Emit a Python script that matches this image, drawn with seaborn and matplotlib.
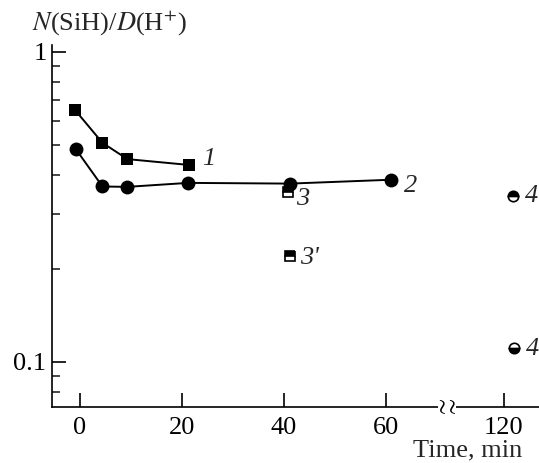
import numpy as np
import pandas as pd
import matplotlib
matplotlib.use("Agg")
import matplotlib.pyplot as plt
import seaborn as sns
from matplotlib.ticker import FixedLocator, FixedFormatter, NullFormatter
from matplotlib.transforms import blended_transform_factory

# ---- data ----
t1 = [-1.0, 4.4, 9.3, 21.3]
r1 = [0.65, 0.509, 0.451, 0.432]
t2 = [-0.8, 4.4, 9.3, 21.2, 41.2, 61.1]
r2 = [0.485, 0.368, 0.367, 0.378, 0.376, 0.387]
t3 = [40.8]
r3 = [0.353]
t3p = [41.2]
r3p = [0.220]
t4a = [121.8]
r4a = [0.344]
t4b = [122.0]
r4b = [0.111]
x_ticks = [0, 20, 40, 60, 120]
x_tick_labels = ["0", "20", "40", "60", "120"]
y_major = [0.1, 1]
y_major_labels = ["0.1", "1"]
y_minor = [0.08, 0.09, 0.2, 0.3, 0.4, 0.5, 0.6, 0.7, 0.8, 0.9]

sns.set_theme(style="ticks")
plt.rcParams["font.family"] = ["Liberation Serif", "DejaVu Serif"]
plt.rcParams["mathtext.fontset"] = "stix"

fig = plt.figure(figsize=(5.39, 4.63), dpi=100)
W, H = 539, 463
ax = fig.add_axes([52 / W, 1 - 407 / H, (W - 52) / W, (407 - 45) / H])

# broken time axis (gap between ~72 and ~109 min compressed)
kx = [-100, 72, 109, 400]
ky = [-100, 72, 72.14, 363.14]
fwd = lambda x: np.interp(x, kx, ky)
inv = lambda y: np.interp(y, ky, kx)
ax.set_xscale("function", functions=(fwd, inv))
ax.set_yscale("log")

df1 = pd.DataFrame({"t": t1, "r": r1})
df2 = pd.DataFrame({"t": t2, "r": r2})
sns.lineplot(data=df1, x="t", y="r", ax=ax, color="black", lw=1.4,
             marker="s", markersize=8, markeredgewidth=0, sort=False)
sns.lineplot(data=df2, x="t", y="r", ax=ax, color="black", lw=1.4,
             marker="o", markersize=10, markeredgewidth=0, sort=False)

def single(x, y, marker, fs, ms):
    sns.lineplot(x=x, y=y, ax=ax, color="black", linestyle="", marker=marker,
                 markersize=ms, fillstyle=fs, markerfacecolor="black",
                 markerfacecoloralt="white", markeredgecolor="black",
                 markeredgewidth=1.2, zorder=1)

single(t3, r3, "s", "top", 7)
single(t3p, r3p, "s", "top", 7)
single(t4a, r4a, "o", "top", 7.5)
single(t4b, r4b, "o", "bottom", 7.5)

lab = dict(fontsize=19, style="italic", ha="left", va="center",
           textcoords="offset pixels", annotation_clip=False)
ax.annotate("1", (t1[-1], r1[-1]), xytext=(13, 6), **lab)
ax.annotate("2", (t2[-1], r2[-1]), xytext=(13, -6), **lab)
ax.annotate("3", (t3[0], r3[0]), xytext=(8, -7), **lab)
ax.annotate("3'", (t3p[0], r3p[0]), xytext=(10, -2), **lab)
ax.annotate("4", (t4a[0], r4a[0]), xytext=(12, 0), **lab)
ax.annotate("4", (t4b[0], r4b[0]), xytext=(12, -1), **lab)

ax.set_xlim(-5.5, 126.9)
ax.set_ylim(0.0715, 1.053)

ax.xaxis.set_major_locator(FixedLocator(x_ticks))
ax.xaxis.set_major_formatter(FixedFormatter(x_tick_labels))
ax.xaxis.set_minor_locator(FixedLocator([]))
ax.yaxis.set_major_locator(FixedLocator(y_major))
ax.yaxis.set_major_formatter(FixedFormatter(y_major_labels))
ax.yaxis.set_minor_locator(FixedLocator(y_minor))
ax.yaxis.set_minor_formatter(NullFormatter())

for s in ["top", "right"]:
    ax.spines[s].set_visible(False)
for s in ["left", "bottom"]:
    ax.spines[s].set_linewidth(1.2)
    ax.spines[s].set_color("black")
ax.tick_params(axis="both", which="major", direction="in", length=10,
               width=1.2, labelsize=19, colors="black", pad=4)
ax.tick_params(axis="y", which="minor", direction="in", length=6, width=1.2)
ax.tick_params(axis="x", pad=7)
ax.set_xlabel("")
ax.set_ylabel("")
ax.grid(False)

# axis break mark
tr = blended_transform_factory(ax.transData, ax.transAxes)
ax.text(72, 0.0, r"$\wr\wr$", transform=tr, ha="center", va="center",
        fontsize=17, color="black", clip_on=False, zorder=10,
        bbox=dict(facecolor="white", edgecolor="none", pad=0.2))

fig.text(32 / W, 1 - 23 / H, r"$N$(SiH)/$D$(H$^{+}$)", fontsize=19,
         ha="left", va="center")
fig.text(522 / W, 1 - 450 / H, "Time, min", fontsize=19, ha="right",
         va="center")

fig.savefig("out.png", dpi=100)
